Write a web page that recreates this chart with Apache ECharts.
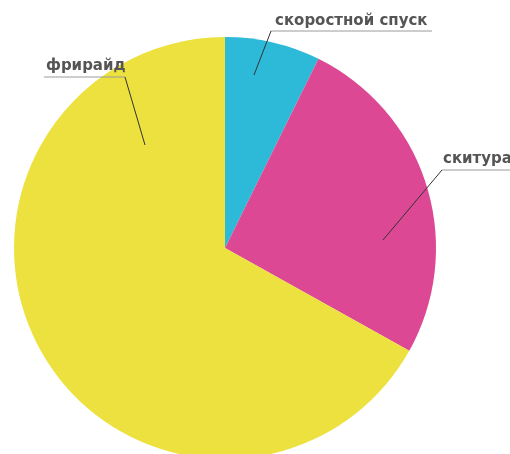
<!DOCTYPE html>
<html>
<head>
<meta charset="utf-8">
<script src="https://cdn.jsdelivr.net/npm/echarts@6/dist/echarts.min.js"></script>
<style>html,body{margin:0;padding:0;background:#fff;}#c{width:510px;height:454px;}</style>
</head>
<body>
<div id="c"></div>
<script>
var categories = ['скоростной спуск', 'скитура', 'фрирайд'];
var values = [7.3, 25.8, 66.9];
var colors = ['#2cbad8', '#dc4894', '#ece13e'];

// label annotation layout (text anchor, leader from slice to underline, underline)
var labelLayouts = [
  {x: 275, y: 29, leader: [[254, 75], [271, 31]], under: [[271, 31], [432, 31]]},
  {x: 443, y: 167, leader: [[383, 240], [442, 170]], under: [[442, 170], [512, 170]]},
  {x: 46, y: 74, leader: [[145, 145], [125, 77]], under: [[125, 77], [44, 77]]}
];

var graphics = [];
labelLayouts.forEach(function (l) {
  graphics.push({type: 'polyline', z: 100, shape: {points: l.under}, style: {stroke: '#9a9a9a', lineWidth: 1, fill: null}});
  graphics.push({type: 'polyline', z: 101, shape: {points: l.leader}, style: {stroke: '#333', lineWidth: 1, fill: null}});
});

var chart = echarts.init(document.getElementById('c'), null, {renderer: 'canvas'});
chart.setOption({
  animation: false,
  graphic: graphics,
  series: [{
    type: 'pie',
    center: [225, 248],
    radius: 211,
    startAngle: 90,
    clockwise: true,
    avoidLabelOverlap: false,
    data: categories.map(function (n, i) {
      return {name: n, value: values[i], itemStyle: {color: colors[i]}};
    }),
    label: {
      show: true,
      position: 'outside',
      formatter: '{b}',
      color: '#555',
      fontSize: 15,
      fontWeight: 'bold',
      fontFamily: 'DejaVu Sans, sans-serif',
      overflow: 'none'
    },
    labelLine: {show: false},
    labelLayout: function (p) {
      var l = labelLayouts[p.dataIndex];
      return {x: l.x, y: l.y, align: 'left', verticalAlign: 'bottom', hideOverlap: false};
    }
  }]
});
</script>
</body>
</html>
